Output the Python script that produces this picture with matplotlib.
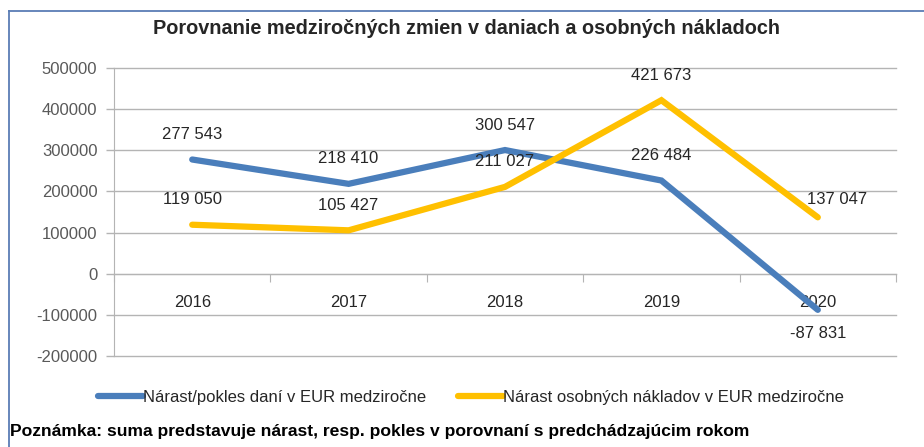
import matplotlib
matplotlib.use('Agg')
import matplotlib.pyplot as plt
from matplotlib.lines import Line2D

plt.rcParams['font.family'] = ['Liberation Sans', 'DejaVu Sans']

# data
years = ['2016', '2017', '2018', '2019', '2020']
dane = [277543, 218410, 300547, 226484, -87831]
naklady = [119050, 105427, 211027, 421673, 137047]
yticks = [-200000, -100000, 0, 100000, 200000, 300000, 400000, 500000]

title = 'Porovnanie medziročných zmien v daniach a osobných nákladoch'
lbl_dane = 'Nárast/pokles daní v EUR medziročne'
lbl_naklady = 'Nárast osobných nákladov v EUR medziročne'
note = 'Poznámka: suma predstavuje nárast, resp. pokles v porovnaní s predchádzajúcim rokom'

c_blue = '#4a7ebb'
c_yellow = '#ffc000'
c_grid = '#b4b4b4'
c_text = '#262626'
fs = 12

fig = plt.figure(figsize=(9.24, 4.47), dpi=100)
ax = fig.add_axes([0.1234, 0.2036, 0.8463, 0.6443])

x = list(range(len(years)))
ax.plot(x, dane, color=c_blue, lw=4.5, solid_capstyle='round', solid_joinstyle='miter', zorder=3)
ax.plot(x, naklady, color=c_yellow, lw=4.5, solid_capstyle='round', solid_joinstyle='miter', zorder=3)

ax.set_xlim(-0.5, len(years) - 0.5)
ax.set_ylim(yticks[0], yticks[-1])

# grid + axes
ax.set_yticks(yticks)
ax.set_yticklabels([str(v) for v in yticks], fontsize=fs, color='#595959')
ax.tick_params(axis='y', length=6, color=c_grid, width=1, pad=6)
ax.yaxis.grid(True, color=c_grid, lw=1, clip_on=False)
ax.set_axisbelow(True)
for s in ['top', 'right']:
    ax.spines[s].set_visible(False)
ax.spines['left'].set_color(c_grid)
ax.spines['bottom'].set_position(('data', 0))
ax.spines['bottom'].set_color(c_grid)

ax.set_xticks([i - 0.5 for i in range(len(years) + 1)])
ax.set_xticklabels([])
ax.tick_params(axis='x', which='major', length=6, color=c_grid, direction='out')
ax.set_xticks(x, minor=True)
ax.set_xticklabels(years, minor=True, fontsize=fs, color=c_text)
ax.tick_params(axis='x', which='minor', length=0, pad=15)

def fmt(v):
    return f'{v:,}'.replace(',', ' ')

# data labels
for i, v in enumerate(dane):
    off = (0, -17) if v < 0 else (0, 18)
    ax.annotate(fmt(v), (i, v), xytext=off, textcoords='offset points',
                ha='center', va='center', fontsize=fs, color=c_text)
for i, v in enumerate(naklady):
    off = (14, 13) if i == len(naklady) - 1 else (0, 18)
    ax.annotate(fmt(v), (i, v), xytext=off, textcoords='offset points',
                ha='center', va='center', fontsize=fs, color=c_text)

fig.text(0.505, 0.937, title, ha='center', va='center', fontsize=14.3,
         fontweight='bold', color=c_text)

handles = [Line2D([], [], color=c_blue, lw=4.5, solid_capstyle='round'),
           Line2D([], [], color=c_yellow, lw=4.5, solid_capstyle='round')]
fig.legend(handles, [lbl_dane, lbl_naklady], loc='center', bbox_to_anchor=(0.51, 0.11),
           ncol=2, frameon=False, fontsize=fs, handlelength=2.7, handletextpad=0.0,
           columnspacing=1.9, labelcolor=c_text)

fig.text(0.011, 0.034, note, ha='left', va='center', fontsize=12.6,
         fontweight='bold', color='black')

# outer frame (left + top)
fig.add_artist(Line2D([0.0097, 0.0097], [0, 0.975], color='#5a7db5', lw=1.3, transform=fig.transFigure))
fig.add_artist(Line2D([0.0097, 1.0], [0.975, 0.975], color='#5a7db5', lw=1.3, transform=fig.transFigure))

fig.savefig('out.png', dpi=100)
